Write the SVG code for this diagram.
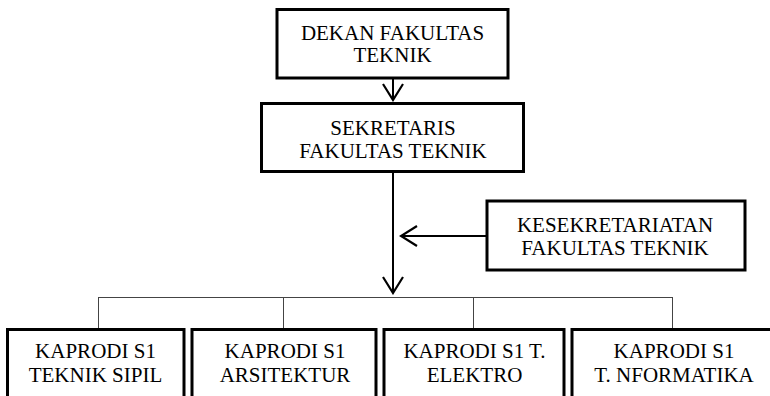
<svg xmlns="http://www.w3.org/2000/svg" width="770" height="396" viewBox="0 0 770 396" font-family="Liberation Serif, Times New Roman, serif" font-size="21">
<defs>
<style>
.box{fill:#fff;stroke:#000;stroke-width:3}
.t{fill:#000;text-anchor:middle}
.conn{fill:none;stroke:#000;stroke-width:2}
.bus{fill:none;stroke:#444;stroke-width:1}
</style>
<marker id="open" viewBox="0 0 20 24" refX="18" refY="12" markerWidth="20" markerHeight="24" markerUnits="userSpaceOnUse" orient="auto">
<polyline points="2,2 18,12 2,22" fill="none" stroke="#000" stroke-width="2.2"/>
</marker>
</defs>
<rect width="770" height="396" fill="#fff"/>
<g id="connectors">
<line class="conn" x1="393" y1="78" x2="393" y2="100" marker-end="url(#open)"/>
<line class="conn" x1="393" y1="172" x2="393" y2="293" marker-end="url(#open)"/>
<line class="conn" x1="487" y1="236" x2="401" y2="236" marker-end="url(#open)"/>
<path class="bus" d="M98,297.5 H673 M98.5,297.5 V328 M283.5,297.5 V328 M473.5,297.5 V328 M672.5,297.5 V328"/>
</g>
<g id="dekan">
<rect class="box" x="277" y="9.5" width="231" height="68.5"/>
<text class="t" x="392.5" y="40">DEKAN FAKULTAS</text>
<text class="t" x="392.5" y="62">TEKNIK</text>
</g>
<g id="sekretaris">
<rect class="box" x="261.5" y="103.5" width="262" height="68"/>
<text class="t" x="393" y="135">SEKRETARIS</text>
<text class="t" x="393" y="158">FAKULTAS TEKNIK</text>
</g>
<g id="kesekretariatan">
<rect class="box" x="487" y="201" width="258" height="69"/>
<text class="t" x="615" y="232">KESEKRETARIATAN</text>
<text class="t" x="615" y="255">FAKULTAS TEKNIK</text>
</g>
<g id="kaprodi-sipil">
<rect class="box" x="7.5" y="329.5" width="176.5" height="90"/>
<text class="t" x="95.5" y="358">KAPRODI S1</text>
<text class="t" x="95.5" y="382">TEKNIK SIPIL</text>
</g>
<g id="kaprodi-arsitektur">
<rect class="box" x="192" y="329.5" width="184" height="90"/>
<text class="t" x="285" y="358">KAPRODI S1</text>
<text class="t" x="285" y="382">ARSITEKTUR</text>
</g>
<g id="kaprodi-elektro">
<rect class="box" x="384" y="329.5" width="180" height="90"/>
<text class="t" x="474.5" y="358">KAPRODI S1 T.</text>
<text class="t" x="474.5" y="382">ELEKTRO</text>
</g>
<g id="kaprodi-informatika">
<rect class="box" x="572" y="329.5" width="204" height="90"/>
<text class="t" x="674" y="358">KAPRODI S1</text>
<text class="t" x="674" y="382">T. NFORMATIKA</text>
</g>
</svg>
